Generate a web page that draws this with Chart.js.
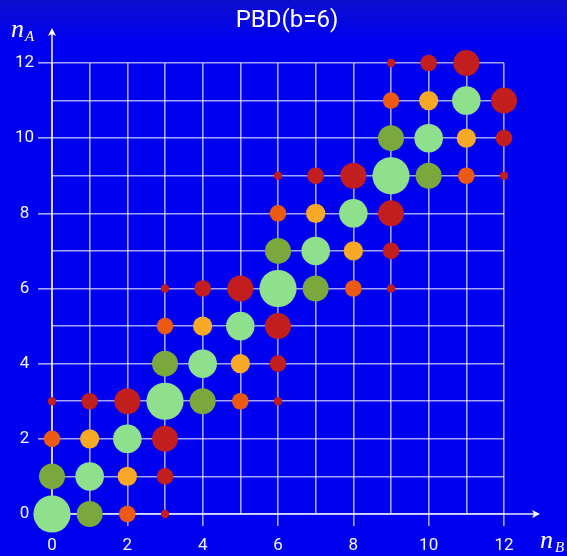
<!DOCTYPE html>
<html>
<head>
<meta charset="utf-8">
<script src="https://cdn.jsdelivr.net/npm/chart.js@4.4.1/dist/chart.umd.min.js"></script>
<style>
  body { margin: 0; background: #0000f0; }
  canvas { display: block; }
</style>
</head>
<body>
<canvas id="pbdChart" width="567" height="556"></canvas>
<script>
// tick labels
const xTicks = [0, 2, 4, 6, 8, 10, 12];
const yTicks = [0, 2, 4, 6, 8, 10, 12];
const titleText = 'PBD(b=6)';

// bubbles per colour group: nB, nA, weight
const lightX = [0, 1, 2, 3, 4, 5, 6, 7, 8, 9, 10, 11];
const lightY = [0, 1, 2, 3, 4, 5, 6, 7, 8, 9, 10, 11];
const lightW = [1.0, 0.59, 0.59, 1.0, 0.59, 0.59, 1.0, 0.59, 0.59, 1.0, 0.59, 0.59];

const oliveX = [1, 0, 4, 3, 7, 6, 10, 9];
const oliveY = [0, 1, 3, 4, 6, 7, 9, 10];
const oliveW = [0.49, 0.49, 0.49, 0.49, 0.49, 0.49, 0.49, 0.49];

const orangeX = [2, 1, 5, 4, 8, 7, 11, 10];
const orangeY = [1, 2, 4, 5, 7, 8, 10, 11];
const orangeW = [0.27, 0.27, 0.27, 0.27, 0.27, 0.27, 0.27, 0.27];

const redOrX = [2, 0, 5, 3, 8, 6, 11, 9];
const redOrY = [0, 2, 3, 5, 6, 8, 9, 11];
const redOrW = [0.2, 0.2, 0.2, 0.2, 0.2, 0.2, 0.2, 0.2];

const darkX = [3, 3, 3, 0, 1, 2, 6, 6, 6, 3, 4, 5, 9, 9, 9, 6, 7, 8, 12, 12, 12, 9, 10, 11];
const darkY = [0, 1, 2, 3, 3, 3, 3, 4, 5, 6, 6, 6, 6, 7, 8, 9, 9, 9, 9, 10, 11, 12, 12, 12];
const darkW = [0.05, 0.2, 0.49, 0.05, 0.2, 0.49, 0.05, 0.2, 0.49, 0.05, 0.2, 0.49,
               0.05, 0.2, 0.49, 0.05, 0.2, 0.49, 0.05, 0.2, 0.49, 0.05, 0.2, 0.49];

const gridColor = 'rgba(255,255,255,0.64)';

function points(xs, ys, ws) {
    return xs.map((x, i) => ({ x: x, y: ys[i], r: 18.6 * Math.sqrt(ws[i]) }));
}

function group(label, color, xs, ys, ws) {
    return {
        label: label,
        data: points(xs, ys, ws),
        backgroundColor: color,
        borderWidth: 0,
        clip: false
    };
}

// background, arrows, title and axis names
const decor = {
    id: 'decor',
    beforeDraw(chart) {
        const c = chart.ctx;
        const g = c.createLinearGradient(0, 0, 0, 40);
        g.addColorStop(0, '#0c10cc');
        g.addColorStop(1, '#0000f0');
        c.save();
        c.fillStyle = g;
        c.fillRect(0, 0, chart.width, chart.height);
        c.restore();
    },
    beforeDatasetsDraw(chart) {
        const c = chart.ctx;
        const xs = chart.scales.x, ys = chart.scales.y;
        const x0 = xs.getPixelForValue(0), y0 = ys.getPixelForValue(0);
        const xEnd = 540, yEnd = 28;
        c.save();
        c.strokeStyle = '#e6e6ff';
        c.fillStyle = '#ffffff';
        c.lineWidth = 1.6;
        c.beginPath();
        c.moveTo(x0, y0); c.lineTo(x0, yEnd + 3);
        c.moveTo(x0, y0); c.lineTo(xEnd - 3, y0);
        c.stroke();
        // arrow heads
        c.beginPath();
        c.moveTo(x0, yEnd); c.lineTo(x0 - 4, yEnd + 8); c.lineTo(x0, yEnd + 6); c.lineTo(x0 + 4, yEnd + 8);
        c.closePath(); c.fill();
        c.beginPath();
        c.moveTo(xEnd, y0); c.lineTo(xEnd - 8, y0 - 4); c.lineTo(xEnd - 6, y0); c.lineTo(xEnd - 8, y0 + 4);
        c.closePath(); c.fill();
        c.restore();
    },
    afterDraw(chart) {
        const c = chart.ctx;
        c.save();
        c.fillStyle = '#ffffff';
        c.textBaseline = 'alphabetic';
        c.textAlign = 'center';
        c.font = '24px Roboto';
        c.fillText(titleText, 287, 27);
        c.textAlign = 'left';
        c.font = 'italic 26px "Liberation Serif"';
        c.fillText('n', 11, 37);
        c.fillText('n', 540, 548);
        c.font = 'italic 15px "Liberation Serif"';
        c.fillText('A', 25, 41);
        c.fillText('B', 555, 552);
        c.restore();
    }
};

const tickMark = (ctx) => (ctx.tick && ctx.tick.value % 2 === 0) ? gridColor : 'rgba(0,0,0,0)';

new Chart(document.getElementById('pbdChart'), {
    type: 'bubble',
    data: {
        datasets: [
            group('light', '#8ee08c', lightX, lightY, lightW),
            group('olive', '#7aa83c', oliveX, oliveY, oliveW),
            group('orange', '#f7a824', orangeX, orangeY, orangeW),
            group('red-orange', '#ec5a12', redOrX, redOrY, redOrW),
            group('dark red', '#c21e1e', darkX, darkY, darkW)
        ]
    },
    options: {
        responsive: false,
        animation: false,
        events: [],
        layout: { padding: { left: 0, right: 63, top: 63, bottom: 0 } },
        plugins: {
            legend: { display: false },
            tooltip: { enabled: false },
            title: { display: false }
        },
        scales: {
            x: {
                type: 'linear',
                min: 0,
                max: 12,
                afterFit: (s) => { s.height = 42; },
                border: { display: false },
                grid: { color: gridColor, lineWidth: 1.6, tickLength: 12, tickColor: tickMark },
                ticks: {
                    stepSize: 1,
                    autoSkip: false,
                    maxRotation: 0,
                    padding: 10,
                    color: '#f4f4ff',
                    font: { family: 'Roboto', size: 17 },
                    callback: (v) => xTicks.includes(v) ? String(v) : ''
                }
            },
            y: {
                type: 'linear',
                min: 0,
                max: 12,
                afterFit: (s) => { s.width = 52; },
                border: { display: false },
                grid: { color: gridColor, lineWidth: 1.6, tickLength: 14, tickColor: tickMark },
                ticks: {
                    stepSize: 1,
                    autoSkip: false,
                    padding: 4,
                    crossAlign: 'center',
                    color: '#f4f4ff',
                    font: { family: 'Roboto', size: 17 },
                    callback: (v) => yTicks.includes(v) ? String(v) : ''
                }
            }
        }
    },
    plugins: [decor]
});
</script>
</body>
</html>
